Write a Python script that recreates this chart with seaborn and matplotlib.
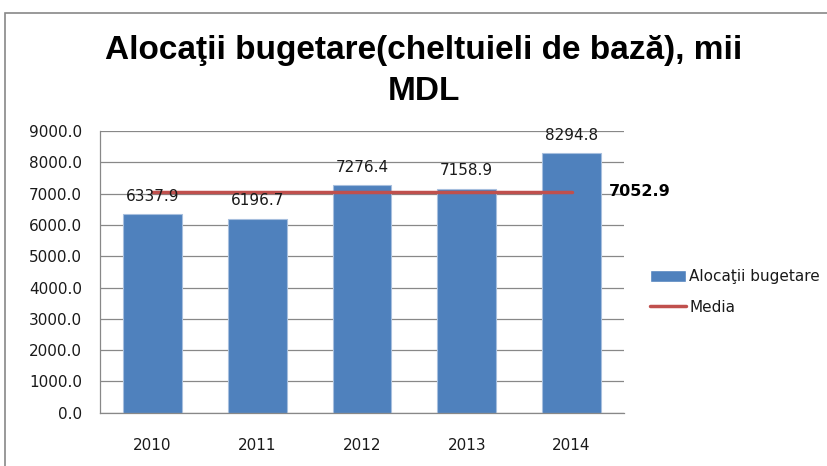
import numpy as np
import pandas as pd
import matplotlib
matplotlib.use("Agg")
import matplotlib.pyplot as plt
import seaborn as sns
from matplotlib.patches import Rectangle
from matplotlib.lines import Line2D
from matplotlib.patches import Patch

years = ["2010", "2011", "2012", "2013", "2014"]
alocatii = [6337.9, 6196.7, 7276.4, 7158.9, 8294.8]
media = [7052.9, 7052.9, 7052.9, 7052.9, 7052.9]

bar_color = "#4F81BD"
line_color = "#C0504D"

sns.set_style("white")
plt.rcParams["font.family"] = ["DejaVu Sans"]
plt.rcParams["text.color"] = "black"

df = pd.DataFrame({"an": years, "valoare": alocatii})

fig = plt.figure(figsize=(8.28, 4.66), dpi=100)
ax = fig.add_axes([100 / 828, 1 - 412.7 / 466, 524 / 828, (412.7 - 131) / 466])

sns.barplot(data=df, x="an", y="valoare", color=bar_color, width=0.56,
            saturation=1, edgecolor="#A7BFDE", linewidth=0.8, ax=ax, zorder=2)
ax.plot(range(len(years)), media, color=line_color, lw=2.5, zorder=3)

# etichete deasupra barelor
for i, v in enumerate(alocatii):
    ax.text(i, v + 330, f"{v:.1f}", ha="center", va="bottom",
            fontsize=11, color="#1a1a1a", zorder=4)

ax.text(len(years) - 1 + 0.36, media[-1], f"{media[-1]:.1f}", ha="left",
        va="center", fontsize=11.5, fontweight="bold",
        color="black", clip_on=False)

ax.set_xlim(-0.5, len(years) - 0.5)
ax.set_ylim(0, 9000)
ax.set_yticks(np.arange(0, 9001, 1000))
ax.set_yticklabels([f"{t:.1f}" for t in np.arange(0, 9001, 1000)])
ax.yaxis.grid(True, color="#888888", lw=0.9, zorder=0)
ax.set_axisbelow(True)
ax.set_xlabel("")
ax.set_ylabel("")
ax.tick_params(axis="both", labelsize=11, length=0, colors="#1a1a1a")
ax.tick_params(axis="y", pad=13)
ax.tick_params(axis="x", pad=18)
for s in ["top", "right"]:
    ax.spines[s].set_visible(False)
for s in ["left", "bottom"]:
    ax.spines[s].set_color("#888888")
    ax.spines[s].set_linewidth(0.9)

fig.text(424 / 828, 1 - 50 / 466, "Alocaţii bugetare(cheltuieli de bază), mii",
         ha="center", va="center", fontsize=24, fontweight="bold", color="black",
         family=["Liberation Sans", "DejaVu Sans"])
fig.text(424 / 828, 1 - 92 / 466, "MDL", ha="center", va="center", color="black",
         fontsize=24, fontweight="bold", family=["Liberation Sans", "DejaVu Sans"])

handles = [Patch(facecolor=bar_color, label="Alocaţii bugetare"),
           Line2D([0], [0], color=line_color, lw=2.5, label="Media")]
fig.legend(handles=handles, loc="center left",
           bbox_to_anchor=(636 / 828, 1 - 292 / 466), frameon=False,
           fontsize=11, handlelength=2.35, handleheight=0.8, labelspacing=1.0,
           handletextpad=0.25, labelcolor="#1a1a1a")

fig.patches.append(Rectangle((5 / 828, -0.1), 1.2, 1 - 13 / 466 + 0.1,
                             transform=fig.transFigure, fill=False,
                             edgecolor="#888888", lw=1.2))

fig.savefig("out.png", dpi=100)
